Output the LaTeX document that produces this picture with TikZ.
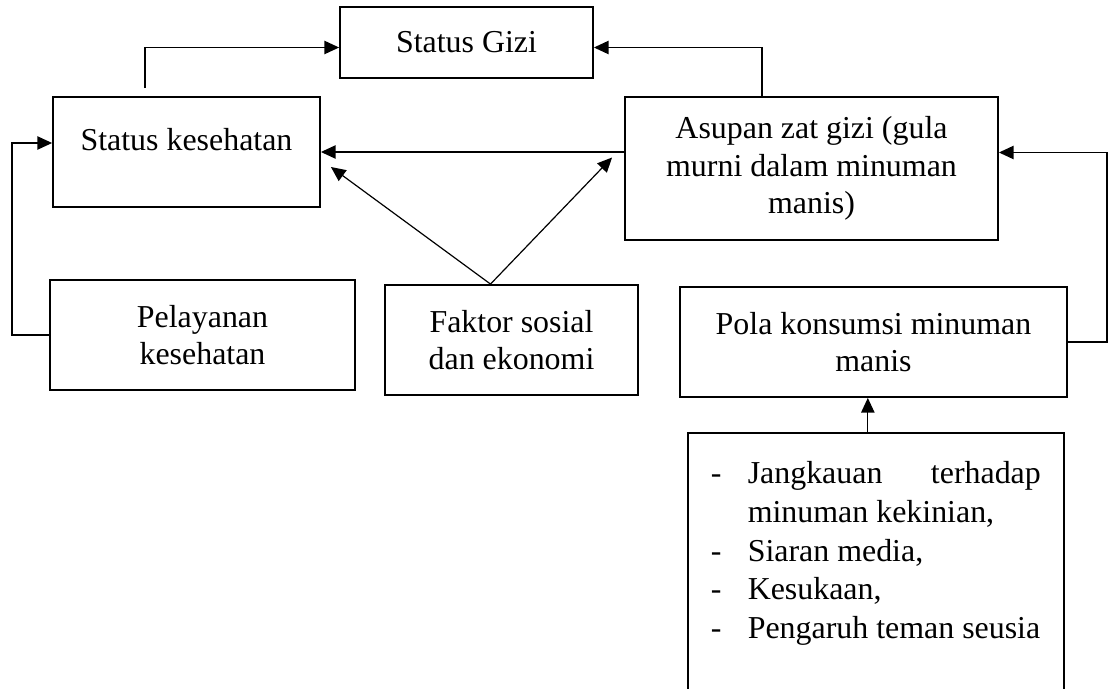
\documentclass[tikz,border=0pt]{standalone}
\usepackage{fontspec}
\setmainfont{Liberation Serif}
\usetikzlibrary{arrows.meta,calc}
\newcommand{\pxu}{0.376pt}

\begin{document}
\begin{tikzpicture}[x=\pxu, y=-\pxu,
  box/.style={draw, line width=0.7pt, inner sep=0pt, align=center,
              font=\fontsize{12}{14.1}\selectfont},
  lst/.style={draw, line width=0.7pt, inner ysep=0pt, inner xsep=8.6pt,
              font=\fontsize{12}{14.5}\selectfont},
  arr/.style={-{Triangle[length=5.5pt,width=5pt]}, line width=0.45pt}]
\useasboundingbox (0,0) rectangle (1115,689);
\clip (0,0) rectangle (1115,689);
\foreach \n/\x/\y/\w/\h/\l in
  {sg/466.5/42.5/253/71/{Status Gizi},
   as/811.5/168.5/373/143/{Asupan zat gizi (gula\\murni dalam minuman\\manis)},
   pl/202.5/335/305/110/{Pelayanan\\kesehatan},
   fe/511.5/340/253/110/{Faktor sosial\\dan ekonomi},
   pk/873.5/342/387/110/{Pola konsumsi minuman\\manis}}
  \node[box, minimum width=\w*\pxu, minimum height=\h*\pxu] (\n) at (\x,\y) {\l};
\node[box, minimum width=267*\pxu, minimum height=110*\pxu, text height=8pt,
      text depth=9pt] (sk) at (186.5,152) {Status kesehatan};
\node[lst, anchor=north west, minimum width=375*\pxu, text height=19.2pt,
      text depth=100pt] (ls) at (687,432)
  {\begin{tabular}[t]{@{}p{13.9pt}@{}p{110.2pt}@{}}
   - & Jangkauan\hfill terhadap\\
     & minuman kekinian,\\
   - & Siaran media,\\
   - & Kesukaan,\\
   - & Pengaruh teman seusia
   \end{tabular}};
\draw[arr, shorten <=3pt] ($(sk.north west)+(93,0)$) |- ($(sg.west)+(0,5)$);
\draw[arr] ($(as.north west)+(138,0)$) |- ($(sg.east)+(0,5)$);
\draw[arr] (sk.east -| as.west) -- (sk.east);
\coordinate (fa) at ($(fe.north)+(-21,0)$);
\draw[arr] (fa) -- ($(sk.east)+(10,15)$);
\draw[arr] (fa) -- ($(as.west)+(-12,-11)$);
\draw[arr] (pl.west) -- ++(-37,0) |- ($(sk.west)+(0,-9)$);
\draw[arr] (pk.east) -- ++(39,0) |- ($(as.east)+(0,-16)$);
\draw[arr] ($(ls.north)+(-8,0)$) coordinate (lt) -- (lt |- pk.south);
\end{tikzpicture}
\end{document}
